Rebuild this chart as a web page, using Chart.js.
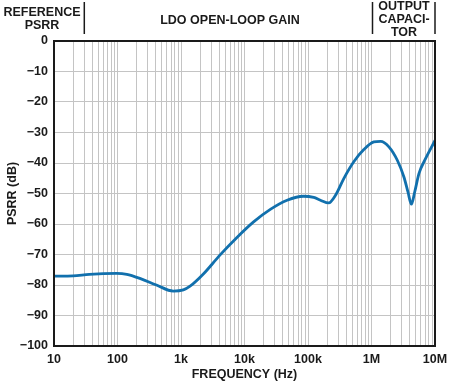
<!DOCTYPE html>
<html>
<head>
<meta charset="utf-8">
<script src="https://cdn.jsdelivr.net/npm/chart.js@4"></script>
<style>
  html, body { margin: 0; padding: 0; background: #fff; }
  #wrap { width: 450px; height: 385px; position: relative; }
</style>
</head>
<body>
<div id="wrap"><canvas id="psrrChart"></canvas></div>
<script>
// frequency (Hz) and PSRR (dB)
var freqHz = [10, 20, 36, 97, 140, 230, 410, 755, 1090, 1390, 2250, 4100, 7600, 13900, 25500, 46800, 85000, 123000, 157000, 212000, 271000, 366000, 526000, 757000, 1090000, 1390000, 1880000, 2550000, 3240000, 3750000, 4250000, 4790000, 5600000, 7130000, 10000000];
var psrrDb = [-77.1, -77.0, -76.5, -76.2, -76.5, -77.9, -80.0, -82.0, -81.6, -80.4, -76.4, -70.2, -64.4, -59.3, -55.2, -52.2, -50.9, -51.3, -52.2, -53.1, -50.6, -45.1, -39.6, -35.6, -33.1, -32.9, -34.7, -39.1, -44.6, -49.5, -53.5, -49.5, -43.4, -38.5, -32.6];

var decadeValues = [10, 100, 1000, 10000, 100000, 1000000, 10000000];
var decadeLabels = ['10', '100', '1k', '10k', '100k', '1M', '10M'];
var yTicks = [0, -10, -20, -30, -40, -50, -60, -70, -80, -90, -100];

// header bands above the plot
var bandLines = [['REFERENCE', 'PSRR'], ['LDO OPEN-LOOP GAIN'], ['OUTPUT', 'CAPACI-', 'TOR']];

var points = freqHz.map(function (f, i) { return { x: f, y: psrrDb[i] }; });

var FONT = '"Liberation Sans", Arial, sans-serif';

var headerPlugin = {
  id: 'header',
  afterDraw: function (chart) {
    var ctx = chart.ctx;
    var a = chart.chartArea;
    var xs = chart.scales.x;
    ctx.save();
    // frame around the plot
    ctx.strokeStyle = '#1a1a1a';
    ctx.lineWidth = 2;
    ctx.strokeRect(a.left, a.top, a.right - a.left, a.bottom - a.top);
    // separators between header bands
    var sep1 = xs.getPixelForValue(30);
    var sep2 = xs.getPixelForValue(1000000) + 1;
    ctx.lineWidth = 1.5;
    [sep1, sep2, a.right].forEach(function (x) {
      ctx.beginPath();
      ctx.moveTo(x, 2);
      ctx.lineTo(x, 34);
      ctx.stroke();
    });
    ctx.fillStyle = '#1a1a1a';
    ctx.font = 'bold 12.5px ' + FONT;
    ctx.textAlign = 'center';
    ctx.textBaseline = 'middle';
    var centers = [42, 230, 404];
    var starts = [13, 20.5, 7];
    bandLines.forEach(function (lines, i) {
      lines.forEach(function (t, j) {
        ctx.fillText(t, centers[i], starts[i] + j * 13);
      });
    });
    ctx.restore();
  }
};

new Chart(document.getElementById('psrrChart'), {
  type: 'line',
  data: {
    datasets: [{
      data: points,
      borderColor: '#1170ad',
      borderWidth: 2.8,
      pointRadius: 0,
      fill: false,
      cubicInterpolationMode: 'monotone'
    }]
  },
  options: {
    responsive: true,
    maintainAspectRatio: false,
    animation: false,
    layout: { padding: { top: 41, right: 15, left: 0, bottom: 0 } },
    plugins: {
      legend: { display: false },
      tooltip: { enabled: false }
    },
    scales: {
      x: {
        type: 'logarithmic',
        min: 10,
        max: 10000000,
        afterBuildTicks: function (scale) {
          var t = [];
          for (var e = 1; e < 7; e++) {
            for (var m = 1; m < 10; m++) t.push({ value: m * Math.pow(10, e) });
          }
          t.push({ value: 10000000 });
          scale.ticks = t;
        },
        afterFit: function (scale) {
          scale.height = 39;
          scale.paddingLeft = 0;
          scale.paddingRight = 0;
        },
        grid: { color: '#c4c4c4', lineWidth: 1, drawTicks: false },
        border: { color: '#1a1a1a', width: 2 },
        ticks: {
          autoSkip: false,
          maxRotation: 0,
          padding: 6,
          color: '#1a1a1a',
          font: { family: FONT, size: 12.5, weight: 'bold' },
          callback: function (v) {
            var i = decadeValues.indexOf(v);
            return i >= 0 ? decadeLabels[i] : '';
          }
        },
        title: {
          display: true,
          text: 'FREQUENCY (Hz)',
          color: '#1a1a1a',
          padding: { top: 0, bottom: 3 },
          font: { family: FONT, size: 12.5, weight: 'bold' }
        }
      },
      y: {
        min: -100,
        max: 0,
        afterBuildTicks: function (scale) {
          scale.ticks = yTicks.map(function (v) { return { value: v }; });
        },
        afterFit: function (scale) {
          scale.width = 54;
          scale.paddingTop = 0;
          scale.paddingBottom = 0;
        },
        grid: { color: '#c4c4c4', lineWidth: 1, drawTicks: false },
        border: { color: '#1a1a1a', width: 2 },
        ticks: {
          padding: 6,
          color: '#1a1a1a',
          font: { family: FONT, size: 12.5, weight: 'bold' },
          callback: function (v) { return v < 0 ? '\u2212' + Math.abs(v) : String(v); }
        },
        title: {
          display: true,
          text: 'PSRR (dB)',
          color: '#1a1a1a',
          padding: { top: 5, bottom: 0 },
          font: { family: FONT, size: 12.5, weight: 'bold' }
        }
      }
    }
  },
  plugins: [headerPlugin]
});
</script>
</body>
</html>
